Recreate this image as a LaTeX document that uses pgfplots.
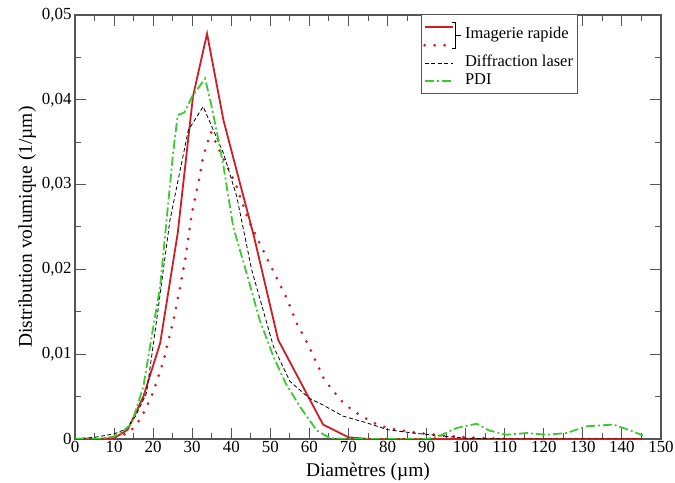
\documentclass[border=0pt]{standalone}
\usepackage{fontspec}
\setmainfont{Liberation Serif}
\usepackage{pgfplots}
\pgfplotsset{compat=1.18}
\definecolor{cred}{RGB}{204,30,36}
\definecolor{cgreen}{RGB}{60,200,50}
\definecolor{caxis}{RGB}{85,85,85}
\newcommand\imgbr{\llap{\rlap{\kern-3bp\rule[8.2bp]{3.8bp}{0.8bp}}\rlap{\kern-3bp\rule[-18bp]{3.8bp}{0.8bp}}\rule[-18bp]{0.8bp}{27bp}\rule[-4.8bp]{5bp}{0.8bp}\kern4.2bp}}
\begin{document}
\begin{tikzpicture}
\begin{axis}[
  name=ax,
  width=586bp, height=424bp, scale only axis,
  xmin=0, xmax=150, ymin=0, ymax=0.05,
  xtick={0,10,...,150},
  minor x tick num=1,
  ytick={0,0.01,0.02,0.03,0.04,0.05},
  yticklabels={0,{0,01},{0,02},{0,03},{0,04},{0,05}},
  minor y tick num=1,
  scaled y ticks=false,
  tick align=inside,
  major tick length=11bp, minor tick length=6bp,
  every tick/.style={caxis, line width=1bp},
  axis line style={caxis, line width=1.3bp},
  /pgf/number format/assume math mode=true,
  tick label style={font=\fontsize{17}{19}\selectfont},
  xticklabel style={yshift=1bp},
  label style={font=\fontsize{19.5}{22}\selectfont},
  xlabel={Diamètres (µm)},
  ylabel={Distribution volumique (1/µm)},
  xlabel style={yshift=-3bp},
  ylabel style={yshift=-1bp},
  legend cell align=left,
  legend image code/.code={\draw[#1] (0bp,0bp) -- (28bp,0bp);},
  legend style={name=leg, at={(0.592,1)}, anchor=north west, draw=none,
    font=\fontsize{16.5}{17}\selectfont, row sep=0bp,
    inner xsep=1bp, inner ysep=3bp,
    nodes={inner ysep=0.5bp, inner xsep=3bp},
    /tikz/every odd column/.append style={column sep=8bp},
    /tikz/every even column/.append style={nodes={text height=12bp, text depth=5bp}}},
]
\addplot[cred, line width=1.8bp] coordinates {
(0,0) (5,0) (10,0.0001) (13.5,0.0011) (17.5,0.005) (21.8,0.0113) (26.3,0.0243)
(30.2,0.0404) (33.8,0.0478) (38,0.0376) (42.2,0.0302) (45.8,0.0239) (52,0.0117)
(59.7,0.005) (63.5,0.0017) (70,0.0002) (75,0) (145,0)};
\addlegendentry{\smash{\imgbr\raisebox{-7.5bp}{Imagerie rapide}}}
\addplot[cred, line width=3bp, line cap=round, dash pattern=on 0bp off 10bp] coordinates {
(0,0) (10,0.0001) (14,0.0008) (17,0.0025) (20,0.0055) (22.6,0.0091) (25.6,0.0148)
(28.2,0.0211) (29.9,0.0266) (31.6,0.0302) (32.8,0.0333) (34.8,0.0362) (37.5,0.0335)
(41,0.0302) (44.4,0.0258) (50,0.0205) (54.2,0.0166) (56.7,0.0137) (59.7,0.0111)
(63.6,0.0072) (66,0.0057) (68.6,0.0043) (71.2,0.0033) (74.2,0.0025) (77.3,0.0017)
(80,0.0013) (85,0.0009) (90,0.0006) (95,0.0004) (100,0.0002) (105,0.0001) (110,0)};
\addlegendentry{\rule{0pt}{1bp}}
\addplot[black, line width=0.8bp, dash pattern=on 4bp off 2.5bp] coordinates {
(0,0) (5,0.0002) (10,0.0006) (13.2,0.0012) (15.5,0.0027) (18.3,0.0054) (20.9,0.014)
(24.3,0.0258) (29,0.0364) (32.8,0.0392) (38,0.0337) (41.4,0.0286) (45.2,0.02)
(50.8,0.0109) (55,0.0068) (60,0.0048) (63.5,0.004) (68.6,0.0027) (74.7,0.0019)
(80,0.0011) (86.6,0.0007) (95,0.0003) (100,0.0001) (110,0) (145,0)};
\addlegendentry{Diffraction laser}
\addplot[cgreen, line width=1.8bp, dash pattern=on 9bp off 3bp on 2bp off 3bp] coordinates {
(0,0) (3,0.0001) (6.4,0) (10,0.0003) (12,0.0008) (14.5,0.0018) (17.5,0.0062)
(19.6,0.012) (21.8,0.018) (25.1,0.0337) (26.3,0.0382) (28,0.0385) (30,0.0404)
(33.3,0.0425) (34.8,0.0396) (36.7,0.0353) (38,0.0322) (40.5,0.025) (43.9,0.0196)
(47.3,0.014) (50.8,0.0097) (54,0.0065) (57.6,0.0038) (61.9,0.001) (65.3,0.0001)
(70,0) (90,0) (93,0.0003) (97.7,0.0013) (102.8,0.0018) (106,0.001) (110.5,0.0005)
(115.6,0.0007) (120.7,0.0005) (125.8,0.0007) (131,0.0015) (137.8,0.0017)
(142.8,0.0009) (145.4,0.0004)};
\addlegendentry{PDI}
\end{axis}
\draw[caxis, line width=1bp] (leg.south west) rectangle (leg.north east);
\pgfresetboundingbox
\path[use as bounding box] ([shift={(-75bp,-44bp)}]ax.south west) rectangle ([shift={(14bp,15bp)}]ax.north east);
\end{tikzpicture}
\end{document}
